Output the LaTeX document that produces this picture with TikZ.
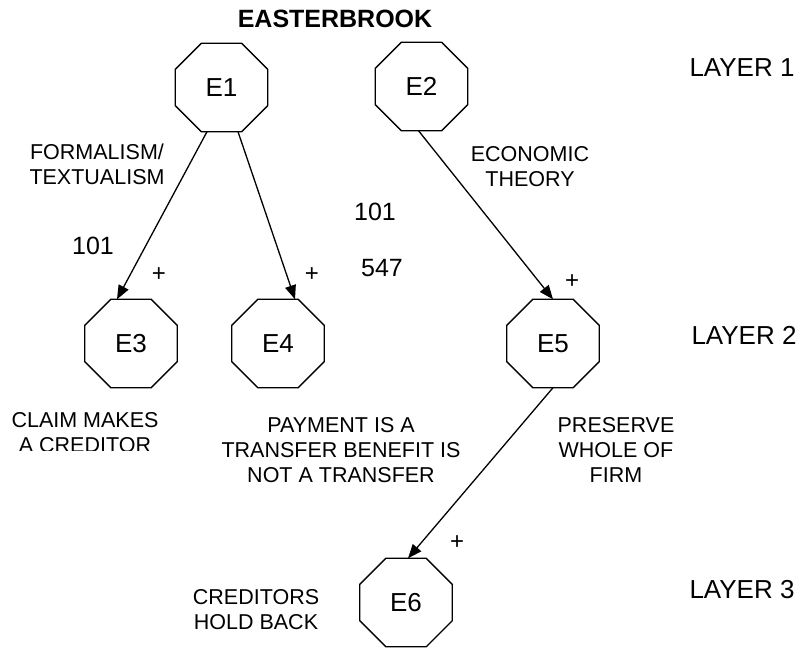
\documentclass[tikz,border=0pt]{standalone}
\usepackage{fontspec}
\setmainfont{Liberation Sans}
\usetikzlibrary{arrows.meta}
\begin{document}
\begin{tikzpicture}[x=1pt,y=-1pt,
  oct/.style={rectangle, minimum width=92pt, minimum height=88pt, inner sep=0pt, font=\fontsize{26}{30}\selectfont},
  octline/.style={line width=1.3pt, line join=miter},
  lbl/.style={align=center, font=\fontsize{21.5}{25}\selectfont, inner sep=0pt},
  num/.style={font=\fontsize{25}{30}\selectfont, inner sep=0pt},
  sign/.style={font=\fontsize{24}{28}\selectfont, inner sep=0pt},
  layer/.style={font=\fontsize{26}{30}\selectfont, inner sep=0pt},
  ttl/.style={font=\fontsize{25}{30}\selectfont\bfseries, inner sep=0pt},
  conn/.style={line width=1.3pt, -{Triangle[length=14pt,width=11pt]}}]
\useasboundingbox (0,0) rectangle (802,648);

\node[ttl] (title) at (335,18.5) {EASTERBROOK};

\node[oct] (E1) at (221.5,87.5) {E1};
\node[oct] (E2) at (421.5,86.5) {E2};
\node[oct] (E3) at (131,343.5) {E3};
\node[oct] (E4) at (278,343.5) {E4};
\node[oct] (E5) at (553,343.5) {E5};
\node[oct] (E6) at (406,602.5) {E6};

\foreach \n in {E1,E2,E3,E4,E5,E6}{
  \draw[octline] ([xshift=26pt]\n.north west) -- ([xshift=-26pt]\n.north east)
    -- ([yshift=-26pt]\n.north east) -- ([yshift=26pt]\n.south east)
    -- ([xshift=-26pt]\n.south east) -- ([xshift=26pt]\n.south west)
    -- ([yshift=26pt]\n.south west) -- ([yshift=-26pt]\n.north west) -- cycle;
}

\node[layer] (L1) at (742,68) {LAYER 1};
\node[layer] (L2) at (744,335) {LAYER 2};
\node[layer] (L3) at (742,590) {LAYER 3};

\node[lbl] (formal) at (97,164) {FORMALISM/\\TEXTUALISM};
\node[lbl] (econ) at (530,167) {ECONOMIC\\THEORY};
\begin{scope}
  \clip (0,0) rectangle (802,450);
  \node[lbl] (claim) at (85,433) {CLAIM MAKES\\A CREDITOR};
\end{scope}
\node[lbl] (payment) at (341,450) {PAYMENT IS A\\TRANSFER BENEFIT IS\\NOT A TRANSFER};
\node[lbl] (preserve) at (616,450) {PRESERVE\\WHOLE OF\\FIRM};
\node[lbl] (hold) at (256,610) {CREDITORS\\HOLD BACK};

\node[num] (n1) at (93,246) {101};
\node[num] (n2) at (375,212) {101};
\node[num] (n3) at (382,268) {547};

\node[sign] (p1) at (159,275) {+};
\node[sign] (p2) at (312,275) {+};
\node[sign] (p3) at (572,282) {+};
\node[sign] (p4) at (457,543) {+};

\draw[conn] ([xshift=-14.5pt]E1.south) -- ([xshift=-14pt]E3.north);
\draw[conn] ([xshift=16.5pt]E1.south) -- ([xshift=17pt]E4.north);
\draw[conn] ([xshift=-3pt]E2.south) -- (E5.north);
\draw[conn] (E5.south) -- ([xshift=2pt]E6.north);
\end{tikzpicture}
\end{document}
